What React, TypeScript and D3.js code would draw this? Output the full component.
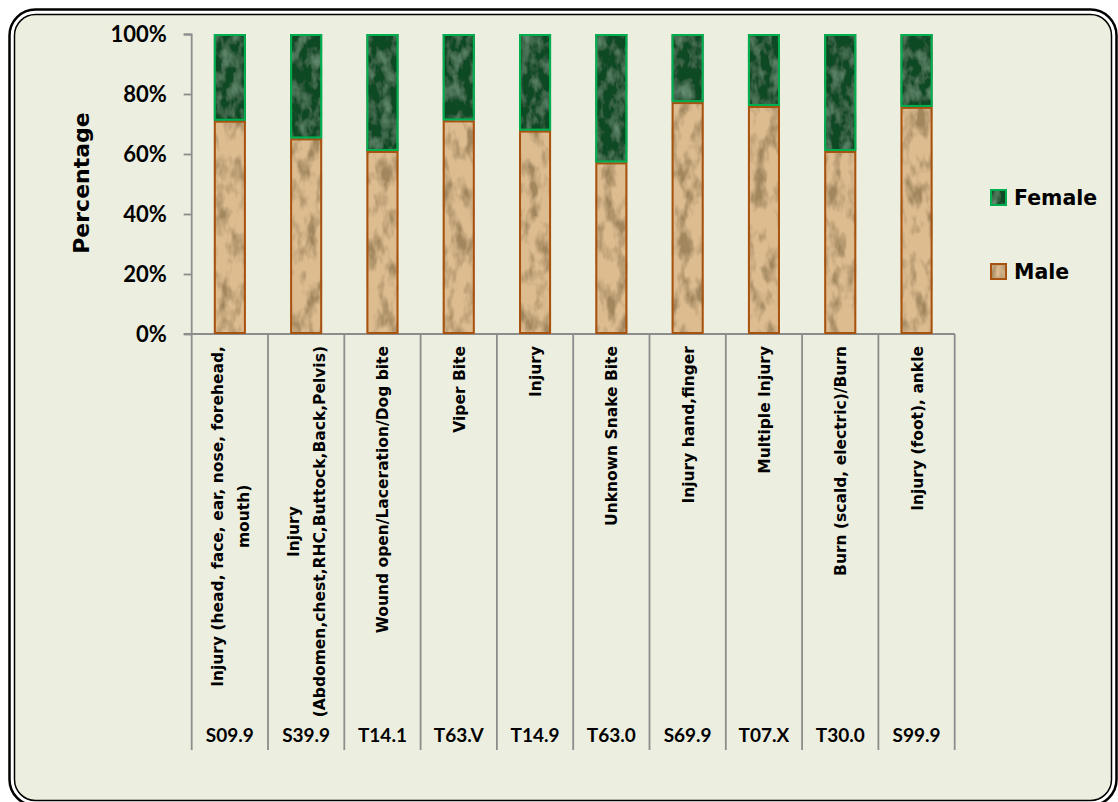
import React, { useEffect, useRef } from 'react';
import * as d3 from 'd3';

// 카테고리 라벨 (줄 단위)
const labelLines = [
    ['Injury (head, face, ear, nose, forehead,', 'mouth)'],
    ['Injury', '(Abdomen,chest,RHC,Buttock,Back,Pelvis)'],
    ['Wound open/Laceration/Dog bite'],
    ['Viper Bite'],
    ['Injury'],
    ['Unknown Snake Bite'],
    ['Injury hand,finger'],
    ['Multiple Injury'],
    ['Burn (scald, electric)/Burn'],
    ['Injury (foot), ankle'],
];
const codes = ['S09.9', 'S39.9', 'T14.1', 'T63.V', 'T14.9', 'T63.0', 'S69.9', 'T07.X', 'T30.0', 'S99.9'];
const maleShare = [71.1, 65.2, 61.0, 71.2, 67.8, 57.2, 77.3, 76.0, 61.0, 75.7];
const femaleShare = [28.9, 34.8, 39.0, 28.8, 32.2, 42.8, 22.7, 24.0, 39.0, 24.3];
const yTicks = [0, 20, 40, 60, 80, 100];
const seriesNames = ['Male', 'Female'];

const App = () => {
    const svgRef = useRef(null);

    useEffect(() => {
        const svg = d3.select(svgRef.current);
        svg.selectAll('*').remove();

        const width = 1118;
        const height = 802;
        const margin = { top: 34, left: 191.7 };
        const innerWidth = 763;
        const innerHeight = 300;
        const labelBottom = 750;

        // 텍스처 필터
        const defs = svg.append('defs');
        const texMale = defs.append('filter').attr('id', 'texMale')
            .attr('x', 0).attr('y', 0).attr('width', 1).attr('height', 1);
        texMale.append('feTurbulence').attr('type', 'fractalNoise')
            .attr('baseFrequency', '0.08 0.04').attr('numOctaves', 3).attr('seed', 7).attr('result', 'n');
        texMale.append('feColorMatrix').attr('in', 'n').attr('type', 'matrix')
            .attr('values', '0 0 0 0 0.36  0 0 0 0 0.24  0 0 0 0 0.11  3.2 0 0 0 -1.4').attr('result', 'dark');
        texMale.append('feComposite').attr('in', 'dark').attr('in2', 'SourceGraphic').attr('operator', 'atop');

        const texFemale = defs.append('filter').attr('id', 'texFemale')
            .attr('x', 0).attr('y', 0).attr('width', 1).attr('height', 1);
        texFemale.append('feTurbulence').attr('type', 'fractalNoise')
            .attr('baseFrequency', '0.1 0.06').attr('numOctaves', 3).attr('seed', 3).attr('result', 'n');
        texFemale.append('feColorMatrix').attr('in', 'n').attr('type', 'matrix')
            .attr('values', '0 0 0 0 0.26  0 0 0 0 0.48  0 0 0 0 0.32  1.0 0 0 0 -0.42').attr('result', 'light');
        texFemale.append('feComposite').attr('in', 'light').attr('in2', 'SourceGraphic').attr('operator', 'atop');

        // 배경 프레임 (이중 테두리)
        svg.append('rect').attr('width', width).attr('height', height).attr('fill', '#ffffff');
        svg.append('rect')
            .attr('x', 9.5).attr('y', 9.5).attr('width', 1107).attr('height', 796)
            .attr('rx', 26).attr('fill', '#ffffff').attr('stroke', '#000').attr('stroke-width', 2.5);
        svg.append('rect')
            .attr('x', 14.5).attr('y', 14.5).attr('width', 1097).attr('height', 786)
            .attr('rx', 21).attr('fill', '#ECEFDF').attr('stroke', '#000').attr('stroke-width', 1.5);

        const x = d3.scaleBand<number>()
            .domain(d3.range(codes.length))
            .range([0, innerWidth])
            .paddingInner(0.58)
            .paddingOuter(0.29);
        const step = x.step();

        const y = d3.scaleLinear().domain([0, 100]).range([innerHeight, 0]);

        const g = svg.append('g').attr('transform', `translate(${margin.left},${margin.top})`);

        // y축
        const yAxis = g.append('g')
            .call(d3.axisLeft(y).tickValues(yTicks).tickSize(8).tickPadding(5).tickFormat(d => `${d}%`));
        yAxis.select('.domain').attr('stroke', '#8C8C8C').attr('stroke-width', 1.8)
            .attr('d', `M-8,0.5H0V${innerHeight}`);
        yAxis.selectAll('.tick line').attr('stroke', '#8C8C8C').attr('stroke-width', 1.8);
        yAxis.selectAll('.tick text')
            .attr('font-family', 'Lato').attr('font-weight', 'bold').attr('font-size', 22)
            .attr('fill', '#000').attr('dy', '0.36em').attr('x', -25);

        // 카테고리 구분선
        g.append('line')
            .attr('x1', -8).attr('x2', innerWidth).attr('y1', innerHeight).attr('y2', innerHeight)
            .attr('stroke', '#8C8C8C').attr('stroke-width', 1.8);
        g.selectAll('.sep')
            .data(d3.range(codes.length + 1))
            .join('line')
            .attr('x1', i => i * step).attr('x2', i => i * step)
            .attr('y1', innerHeight).attr('y2', labelBottom - margin.top)
            .attr('stroke', '#8C8C8C').attr('stroke-width', 1.8);

        // 누적 막대
        const table = codes.map((c, i) => ({ Male: maleShare[i], Female: femaleShare[i] }));
        const stacked = d3.stack().keys(seriesNames)(table);
        const fills = { Male: '#DDBC90', Female: '#0E4824' };
        const strokes = { Male: '#A8520F', Female: '#00B050' };
        const filters = { Male: 'url(#texMale)', Female: 'url(#texFemale)' };

        stacked.forEach(layer => {
            const key = layer.key;
            const lg = g.append('g');
            lg.selectAll('rect.fill')
                .data(layer)
                .join('rect')
                .attr('x', (d, i) => x(i))
                .attr('y', d => y(d[1]))
                .attr('width', x.bandwidth())
                .attr('height', d => y(d[0]) - y(d[1]))
                .attr('fill', fills[key])
                .attr('filter', filters[key]);
            lg.selectAll('rect.edge')
                .data(layer)
                .join('rect')
                .attr('x', (d, i) => x(i) + 1)
                .attr('y', d => y(d[1]) + 1)
                .attr('width', x.bandwidth() - 2)
                .attr('height', d => y(d[0]) - y(d[1]) - 2)
                .attr('fill', 'none')
                .attr('stroke', strokes[key])
                .attr('stroke-width', 2);
        });

        // 카테고리 라벨 (세로 텍스트)
        const lineGap = 26.5;
        labelLines.forEach((lines, i) => {
            const cx = x(i) + x.bandwidth() / 2;
            const tg = g.append('g');
            const texts = lines.map((line, j) =>
                tg.append('text')
                    .attr('text-anchor', 'middle')
                    .attr('font-family', 'DejaVu Sans')
                    .attr('font-weight', 'bold')
                    .attr('font-size', 15.5)
                    .attr('fill', '#000')
                    .text(line));
            const maxLen = d3.max(texts, t => (t.node() as SVGTextElement).getComputedTextLength()) || 0;
            const cy = innerHeight + 12 + maxLen / 2;
            texts.forEach((t, j) => {
                const off = (j - (lines.length - 1) / 2) * lineGap;
                t.attr('transform', `translate(${cx + off + 6},${cy}) rotate(-90)`);
            });
        });

        // 코드 라벨
        g.selectAll('.code')
            .data(codes)
            .join('text')
            .attr('x', (d, i) => i * step + step / 2)
            .attr('y', 741.5 - margin.top)
            .attr('text-anchor', 'middle')
            .attr('font-family', 'Lato')
            .attr('font-weight', 'bold')
            .attr('font-size', 19)
            .attr('fill', '#000')
            .text(d => d);

        // y축 제목
        svg.append('text')
            .attr('transform', 'translate(89,183) rotate(-90)')
            .attr('text-anchor', 'middle')
            .attr('font-family', 'DejaVu Sans')
            .attr('font-weight', 'bold')
            .attr('font-size', 22)
            .attr('fill', '#000')
            .text('Percentage');

        // 범례
        const legendItems = [
            { key: 'Female', y: 189 },
            { key: 'Male', y: 263 },
        ];
        legendItems.forEach(item => {
            svg.append('rect')
                .attr('x', 990).attr('y', item.y).attr('width', 17).attr('height', 17)
                .attr('fill', fills[item.key]).attr('filter', filters[item.key]);
            svg.append('rect')
                .attr('x', 991).attr('y', item.y + 1).attr('width', 15).attr('height', 15)
                .attr('fill', 'none').attr('stroke', strokes[item.key]).attr('stroke-width', 2);
            svg.append('text')
                .attr('x', 1014).attr('y', item.y + 16)
                .attr('font-family', 'DejaVu Sans')
                .attr('font-weight', 'bold')
                .attr('font-size', 20.5)
                .attr('fill', '#000')
                .text(item.key);
        });
    }, []);

    return (
        <svg ref={svgRef} width={1118} height={802}
             style={{ position: 'absolute', left: 0, top: 0, display: 'block' }}/>
    );
};

export default App;
